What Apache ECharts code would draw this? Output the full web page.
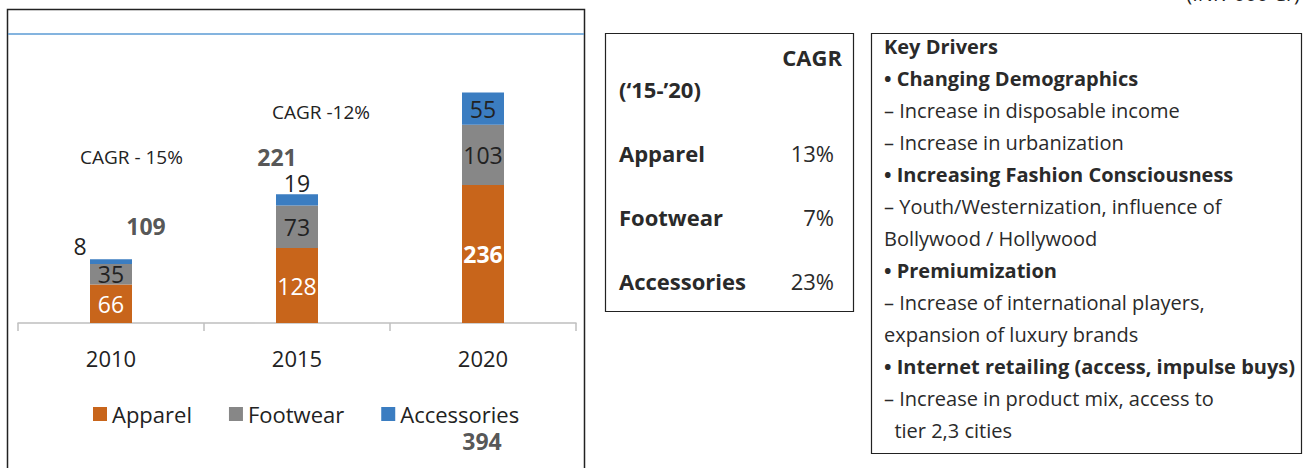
<!DOCTYPE html>
<html>
<head>
<meta charset="utf-8">
<script src="https://cdn.jsdelivr.net/npm/echarts@6/dist/echarts.min.js"></script>
<style>
  html, body { margin: 0; padding: 0; background: #fff; }
  #main { width: 1304px; height: 468px; }
</style>
</head>
<body>
<div id="main"></div>
<script>
// chart data
const years = ['2010', '2015', '2020'];
const apparel = [66, 128, 236];
const footwear = [35, 73, 103];
const accessories = [8, 19, 55];
const totals = [109, 221, 394];
const cagrNotes = ['CAGR - 15%', 'CAGR -12%'];

// CAGR table
const tableHead = ['CAGR', '(\u201815-\u201920)'];
const tableRows = ['Apparel', 'Footwear', 'Accessories'];
const tableCagr = ['13%', '7%', '23%'];

// key drivers text (bold flag, text)
const drivers = [
  [true, 'Key Drivers'],
  [true, '\u2022 Changing Demographics'],
  [false, '\u2013 Increase in disposable income'],
  [false, '\u2013 Increase in urbanization'],
  [true, '\u2022 Increasing Fashion Consciousness'],
  [false, '\u2013 Youth/Westernization, influence of'],
  [false, 'Bollywood / Hollywood'],
  [true, '\u2022 Premiumization'],
  [false, '\u2013 Increase of international players,'],
  [false, 'expansion of luxury brands'],
  [true, '\u2022 Internet retailing (access, impulse buys)'],
  [false, '\u2013 Increase in product mix, access to'],
  [false, '  tier 2,3 cities']
];

const FONT = '"Open Sans", Lato, sans-serif';
const C_APP = '#C8651B';
const C_FOOT = '#878787';
const C_ACC = '#3B7DC1';

// label tweaks (layout only)
const accOffsets = [[-31, -16], [0, -17], [0, 0]];
const totalOffsets = [[35, -33], [-20, -37], [-1, 348]];

const chart = echarts.init(document.getElementById('main'), null, { renderer: 'svg' });

const graphics = [];
// left frame + blue rule
graphics.push({ type: 'rect', shape: { x: 7.5, y: 9.5, width: 577, height: 470 },
  style: { fill: 'none', stroke: '#222', lineWidth: 1.5 } });
graphics.push({ type: 'line', shape: { x1: 8, y1: 34, x2: 584, y2: 34 },
  style: { stroke: '#5B9BD5', lineWidth: 1.5 } });
graphics.push({ type: 'text', x: 80, y: 157, style: { text: cagrNotes[0], font: '19px ' + FONT, fill: '#222', verticalAlign: 'middle' } });
graphics.push({ type: 'text', x: 272, y: 112, style: { text: cagrNotes[1], font: '19px ' + FONT, fill: '#222', verticalAlign: 'middle' } });
// units, mostly cut off at top
graphics.push({ type: 'text', x: 1300, y: -17, style: { text: '(INR \u2019000 Cr)', font: '20px ' + FONT, fill: '#222', align: 'right' } });

// CAGR table box
graphics.push({ type: 'rect', shape: { x: 605.5, y: 33.5, width: 248, height: 278 },
  style: { fill: 'none', stroke: '#222', lineWidth: 1.2 } });
graphics.push({ type: 'text', x: 842, y: 57, style: { text: tableHead[0], font: 'bold 22px ' + FONT, fill: '#2a2a2a', align: 'right', verticalAlign: 'middle' } });
graphics.push({ type: 'text', x: 619, y: 89, style: { text: tableHead[1], font: 'bold 22px ' + FONT, fill: '#2a2a2a', verticalAlign: 'middle' } });
tableRows.forEach(function (name, i) {
  const y = 153 + i * 64;
  graphics.push({ type: 'text', x: 619, y: y, style: { text: name, font: 'bold 22px ' + FONT, fill: '#2a2a2a', verticalAlign: 'middle' } });
  graphics.push({ type: 'text', x: 834, y: y, style: { text: tableCagr[i], font: '22px ' + FONT, fill: '#2a2a2a', align: 'right', verticalAlign: 'middle' } });
});

// key drivers box
graphics.push({ type: 'rect', shape: { x: 871.5, y: 33.5, width: 430, height: 420 },
  style: { fill: 'none', stroke: '#222', lineWidth: 1.2 } });
drivers.forEach(function (d, i) {
  graphics.push({ type: 'text', x: 884, y: 46 + i * 32, style: {
    text: d[1], font: (d[0] ? 'bold ' : '') + '20px ' + FONT, fill: '#2a2a2a', verticalAlign: 'middle' } });
});

const barLabel = { show: true, position: 'inside', fontSize: 23, lineHeight: 20, fontFamily: FONT };

chart.setOption({
  animation: false,
  textStyle: { fontFamily: FONT },
  grid: { left: 18, right: 728, top: 89, bottom: 145 },
  legend: {
    left: 88, top: 397, icon: 'rect', itemWidth: 14, itemHeight: 14, itemGap: 37,
    textStyle: { fontSize: 22, lineHeight: 24, color: '#222', fontFamily: FONT },
    data: ['Apparel', 'Footwear', 'Accessories']
  },
  xAxis: {
    type: 'category', data: years,
    axisLine: { lineStyle: { color: '#BFBFBF', width: 1.5 } },
    axisTick: { show: true, length: 8, lineStyle: { color: '#BFBFBF', width: 1.5 } },
    axisLabel: { fontSize: 22, color: '#222', margin: 24, fontFamily: FONT }
  },
  yAxis: { type: 'value', min: 0, max: 400, show: false, splitLine: { show: false } },
  series: [
    {
      name: 'Apparel', type: 'bar', stack: 'total', barWidth: 42, itemStyle: { color: C_APP },
      label: Object.assign({}, barLabel, { color: '#fff' }),
      data: apparel.map(function (v, i) {
        return i === 2 ? { value: v, label: { fontWeight: 'bold' } } : v;
      })
    },
    {
      name: 'Footwear', type: 'bar', stack: 'total', itemStyle: { color: C_FOOT },
      label: Object.assign({}, barLabel, { color: '#222' }),
      data: footwear
    },
    {
      name: 'Accessories', type: 'bar', stack: 'total', itemStyle: { color: C_ACC },
      label: Object.assign({}, barLabel, { color: '#222' }),
      data: accessories.map(function (v, i) {
        return { value: v, label: { offset: accOffsets[i] } };
      })
    },
    {
      name: 'Total', type: 'scatter', symbolSize: 0, silent: true,
      label: { show: true, position: 'inside', fontSize: 23, lineHeight: 20, fontWeight: 'bold', color: '#2a2a2a', fontFamily: FONT },
      data: totals.map(function (v, i) {
        return { value: v, label: { offset: totalOffsets[i] } };
      })
    }
  ],
  graphic: graphics
});
</script>
</body>
</html>
